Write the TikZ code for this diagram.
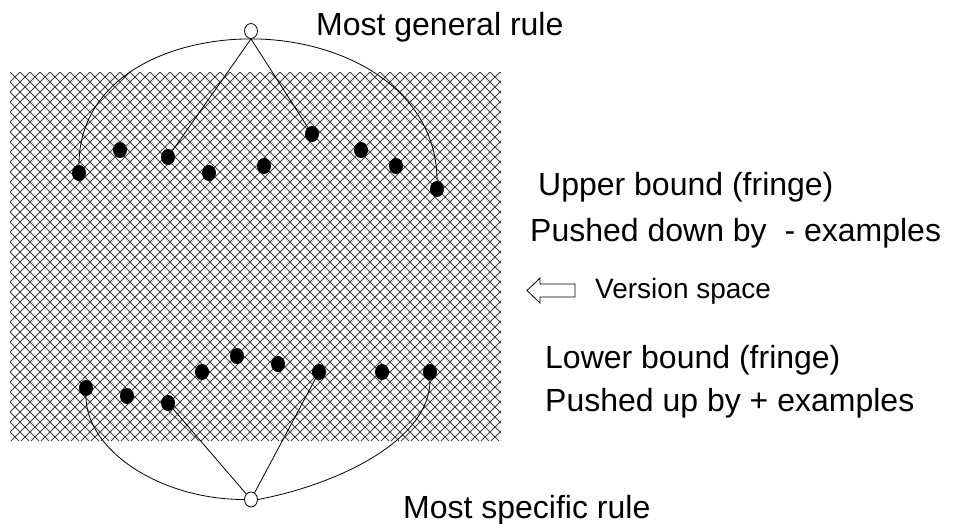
\documentclass[tikz,border=0pt]{standalone}
\usepackage{fontspec}
\setmainfont{Liberation Sans}
\usetikzlibrary{shapes.geometric}
\begin{document}
\begin{tikzpicture}[x=1pt,y=-1pt,
  dot/.style={ellipse,fill=black,inner sep=0pt,minimum width=14pt,minimum height=16pt},
  rulept/.style={ellipse,draw,fill=white,line width=0.8pt,inner sep=0pt,minimum width=13pt,minimum height=15pt},
  link/.style={line width=0.8pt},
  lbl/.style={anchor=base west,inner sep=0pt,font=\fontsize{32}{38}\selectfont},
  hatch/.style={line width=1pt,black!75}]
\useasboundingbox (0,0) rectangle (959,523);

% cross-hatched version space
\begin{scope}
  \clip (10,72) rectangle (501,441);
  \foreach \i in {0,...,88} {
    \draw[hatch] ({-360+10*\i},72) -- ({9+10*\i},441);
    \draw[hatch] ({10+10*\i},72) -- ({-359+10*\i},441);
  }
\end{scope}

% most general / most specific rules
\node[rulept] (g) at (251,31) {};
\node[rulept] (s) at (251,499.5) {};

% upper fringe
\node[dot] (t1) at (79,173) {};
\node[dot] (t2) at (120,150) {};
\node[dot] (t3) at (168,157) {};
\node[dot] (t4) at (209,173) {};
\node[dot] (t5) at (264,166) {};
\node[dot] (t6) at (312,134) {};
\node[dot] (t7) at (361,150) {};
\node[dot] (t8) at (396,166) {};
\node[dot] (t9) at (437,189) {};

% lower fringe
\node[dot] (b1) at (86,388) {};
\node[dot] (b2) at (127,396) {};
\node[dot] (b3) at (168,403) {};
\node[dot] (b4) at (202,372) {};
\node[dot] (b5) at (237,356) {};
\node[dot] (b6) at (278,364) {};
\node[dot] (b7) at (319,372) {};
\node[dot] (b8) at (382,372) {};
\node[dot] (b9) at (430,372) {};

% links to the most general rule
\draw[link] (g.south) .. controls +(-85,0) and +(0,-85) .. (t1.north);
\draw[link] (g.south) -- (t3);
\draw[link] (g.south) -- (t6);
\draw[link] (g.south) .. controls +(92,0) and +(0,-92) .. (t9.north);

% links to the most specific rule
\draw[link] (b1.south) .. controls +(0,54) and +(-84,0) .. (s.west);
\draw[link] (b3) -- (s);
\draw[link] (b7) -- (s);
\draw[link] (b9.south) .. controls +(0,60) and +(80,-15) .. (s.east);

% hollow arrow pointing at the version space
\draw[line width=0.8pt] (527,290.5) -- (540,278) -- (540,284) -- (575,284)
  -- (575,297) -- (540,297) -- (540,303) -- cycle;

% labels
\node[lbl] (lg) at (316,35) {Most general rule};
\node[lbl] (lu1) at (538,195) {Upper bound (fringe)};
\node[lbl] (lu2) at (530,241) {Pushed down by~~- examples};
\node[lbl,font=\fontsize{28}{34}\selectfont] (lv) at (595,298) {Version space};
\node[lbl] (ll1) at (545,368) {Lower bound (fringe)};
\node[lbl] (ll2) at (545,411) {Pushed up by + examples};
\node[lbl] (ls) at (403,518) {Most specific rule};
\end{tikzpicture}
\end{document}
